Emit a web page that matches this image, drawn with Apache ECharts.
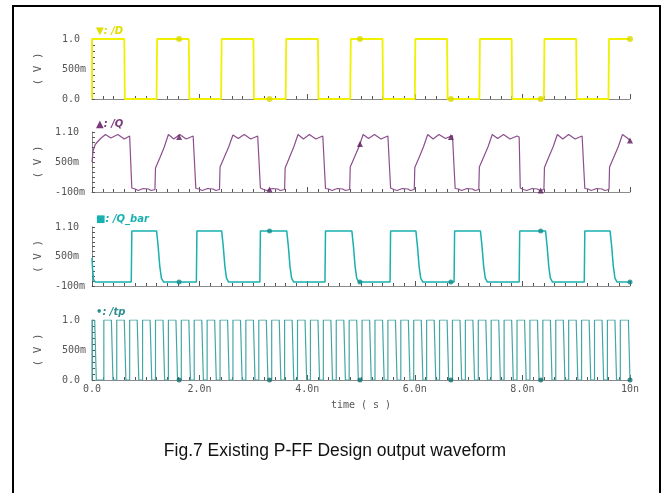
<!DOCTYPE html>
<html><head><meta charset="utf-8">
<script src="https://cdn.jsdelivr.net/npm/echarts@6/dist/echarts.min.js"></script>
<style>html,body{margin:0;padding:0;background:#fff}#c{width:670px;height:493px}</style>
</head><body><div id="c"></div>
<script>
// ---- data ----
const timeTickLabels = ['0.0','2.0n','4.0n','6.0n','8.0n','10n'];
const yLabelsA = {'0':'0.0','0.5':'500m','1':'1.0'};
const yLabelsB = {'-0.1':'-100m','0.5':'500m','1.1':'1.10'};
const yTickValsA = [0,0.1,0.2,0.3,0.4,0.5,0.6,0.7,0.8,0.9,1.0];
const yTickValsB = [-0.1,0,0.1,0.2,0.3,0.4,0.5,0.6,0.7,0.8,0.9,1.0,1.1];

const dWave = [[0,0],[0,1],[0.60,1],[0.61,0],[1.20,0],[1.21,1],[1.80,1],[1.81,0],[2.40,0],[2.41,1],[3.00,1],[3.01,0],[3.60,0],[3.61,1],[4.20,1],[4.21,0],[4.80,0],[4.81,1],[5.40,1],[5.41,0],[6.00,0],[6.01,1],[6.60,1],[6.61,0],[7.20,0],[7.21,1],[7.80,1],[7.81,0],[8.40,0],[8.41,1],[9.00,1],[9.01,0],[9.60,0],[9.61,1],[10,1]];

const qWave = [
 [0,0.50],[0.02,0.72],[0.06,0.85],[0.10,0.90],[0.15,0.96],[0.25,1.05],[0.35,0.98],[0.48,1.05],[0.60,0.96],[0.70,1.02],[0.72,1.00],
 [0.74,-0.02],[0.80,-0.04],[0.86,-0.07],[0.95,-0.03],[1.05,-0.04],[1.10,-0.07],[1.17,-0.05],
 [1.18,0.38],[1.26,0.58],[1.34,0.79],[1.42,1.05],[1.52,0.96],[1.63,1.05],[1.75,0.96],[1.88,1.02],[1.91,1.00],
 [1.93,-0.03],[1.99,-0.04],[2.05,-0.07],[2.15,-0.03],[2.25,-0.04],[2.30,-0.07],[2.37,-0.05],
 [2.38,0.40],[2.46,0.60],[2.54,0.80],[2.62,1.04],[2.72,0.97],[2.83,1.05],[2.95,0.96],[3.08,1.02],[3.11,1.00],
 [3.13,-0.02],[3.19,-0.05],[3.25,-0.07],[3.35,-0.03],[3.45,-0.04],[3.50,-0.07],[3.58,-0.05],
 [3.59,0.38],[3.67,0.59],[3.75,0.80],[3.83,1.05],[3.93,0.96],[4.04,1.05],[4.16,0.96],[4.29,1.02],[4.32,1.00],
 [4.34,-0.03],[4.40,-0.04],[4.46,-0.07],[4.56,-0.03],[4.66,-0.04],[4.71,-0.07],[4.79,-0.05],
 [4.80,0.40],[4.88,0.60],[4.96,0.80],[5.04,1.05],[5.14,0.97],[5.25,1.05],[5.37,0.96],[5.50,1.02],[5.53,1.00],
 [5.55,-0.02],[5.61,-0.05],[5.67,-0.07],[5.77,-0.03],[5.87,-0.04],[5.92,-0.07],[5.99,-0.05],
 [6.00,0.39],[6.08,0.59],[6.16,0.80],[6.24,1.05],[6.34,0.96],[6.45,1.05],[6.57,0.97],[6.70,1.03],[6.73,1.00],
 [6.75,-0.03],[6.81,-0.04],[6.87,-0.07],[6.97,-0.03],[7.07,-0.04],[7.12,-0.07],[7.19,-0.05],
 [7.20,0.40],[7.28,0.60],[7.36,0.80],[7.44,1.05],[7.54,0.97],[7.65,1.05],[7.77,0.96],[7.90,1.02],[7.94,1.00],
 [7.96,-0.02],[8.02,-0.05],[8.08,-0.07],[8.18,-0.03],[8.28,-0.04],[8.33,-0.07],[8.40,-0.05],
 [8.41,0.39],[8.49,0.60],[8.57,0.80],[8.65,1.05],[8.75,0.96],[8.86,1.05],[8.98,0.96],[9.11,1.02],[9.14,1.00],
 [9.16,-0.03],[9.22,-0.04],[9.28,-0.07],[9.38,-0.03],[9.48,-0.04],[9.53,-0.07],[9.61,-0.05],
 [9.62,0.40],[9.70,0.60],[9.78,0.80],[9.86,1.05],[9.95,0.98],[10,0.93]
];

const qbarWave = [
 [0,0.47],[0.01,0.25],[0.03,0.03],[0.06,-0.02],
 [0.73,-0.02],[0.74,1.02],[1.20,1.02],[1.23,0.70],[1.26,0.30],[1.29,0.06],[1.33,-0.02],
 [1.94,-0.02],[1.95,1.02],[2.41,1.02],[2.44,0.70],[2.47,0.30],[2.50,0.06],[2.54,-0.02],
 [3.12,-0.02],[3.13,1.02],[3.62,1.02],[3.65,0.70],[3.68,0.30],[3.71,0.06],[3.75,-0.02],
 [4.33,-0.02],[4.34,1.02],[4.83,1.02],[4.86,0.70],[4.89,0.30],[4.92,0.06],[4.96,-0.02],
 [5.54,-0.02],[5.55,1.02],[6.02,1.02],[6.05,0.70],[6.08,0.30],[6.11,0.06],[6.15,-0.02],
 [6.73,-0.02],[6.74,1.02],[7.22,1.02],[7.25,0.70],[7.28,0.30],[7.31,0.06],[7.35,-0.02],
 [7.94,-0.02],[7.95,1.02],[8.43,1.02],[8.46,0.70],[8.49,0.30],[8.52,0.06],[8.56,-0.02],
 [9.15,-0.02],[9.16,1.02],[9.63,1.02],[9.66,0.70],[9.69,0.30],[9.72,0.06],[9.76,-0.02],[10,-0.02]
];

const tpRise = [0.00,0.22,0.46,0.70,0.94,1.18,1.42,1.66,1.90,2.14,2.38,2.62,2.86,3.10,3.34,3.58,3.82,4.06,4.30,4.54,4.78,5.02,5.26,5.50,5.74,5.98,6.22,6.46,6.70,6.94,7.18,7.42,7.66,7.90,8.14,8.38,8.62,8.86,9.10,9.34,9.58,9.82];
const tpFall = [0.08,0.39,0.63,0.87,1.11,1.35,1.59,1.83,2.07,2.31,2.55,2.79,3.03,3.27,3.51,3.75,3.99,4.23,4.47,4.71,4.95,5.19,5.43,5.67,5.91,6.15,6.39,6.63,6.87,7.11,7.35,7.59,7.83,8.07,8.31,8.55,8.79,9.03,9.27,9.51,9.75,10.0];
const tpHigh = 1.0, tpLow = 0.0;

const markerTimes = [1.62,3.30,4.98,6.67,8.34,10];
const dMarkV  = [1,0,1,0,0,1];
const qMarkV  = [1.00,-0.05,0.86,1.00,-0.07,0.93];
const qbMarkV = [-0.02,1.02,-0.02,-0.02,1.02,-0.02];
const tpMarkV = [0,0,0,0,0,0];

// ---- build ----
const tpWave = [];
tpRise.forEach((r,i)=>{ const f=tpFall[i]; tpWave.push([r,tpLow],[r,tpHigh],[f-0.03,tpHigh],[f,tpLow]); });
const pairs = (ts,vs)=>ts.map((t,i)=>[t,vs[i]]);

const grids = [
  {left:92,right:40,top:39,height:60},
  {left:92,right:40,top:132,height:60},
  {left:92,right:40,top:227,height:59},
  {left:92,right:40,top:320,height:60}
];
const axisGray = '#8a8a8a';
const monoFont = 'DejaVu Sans Mono';

const xAxes = grids.map((g,i)=>({
  gridIndex:i, type:'value', min:0, max:10, interval:2,
  axisLine:{onZero:false,lineStyle:{color:axisGray,width:1}},
  axisTick:{show:true,inside:true,length:5,lineStyle:{color:'#555'}},
  minorTick:{show:true,splitNumber:10,length:3,lineStyle:{color:'#555'}},
  splitLine:{show:false}, minorSplitLine:{show:false},
  axisLabel:{show:i===3,color:'#555',fontFamily:monoFont,fontSize:10,margin:4,
    formatter:v=>timeTickLabels[Math.round(v/2)]},
  name: i===3 ? 'time ( s )' : '', nameLocation:'middle', nameGap:20,
  nameTextStyle:{color:'#555',fontFamily:monoFont,fontSize:10}
}));
const yAxes = grids.map((g,i)=>{
  const A = (i===0||i===3);
  const labels = A ? yLabelsA : yLabelsB;
  return {
    gridIndex:i, type:'value', min:A?0:-0.1, max:A?1:1.1,
    axisLine:{onZero:false,lineStyle:{color:axisGray,width:1}},
    axisTick:{show:true,inside:true,length:3,lineStyle:{color:'#555'},customValues:A?yTickValsA:yTickValsB},
    splitLine:{show:false},
    axisLabel:{color:'#555',fontFamily:monoFont,fontSize:10,align:'left',margin:A?30:37,
      customValues:A?[0,0.5,1]:[-0.1,0.5,1.1],
      formatter:v=>labels[String(Math.round(v*10)/10)]},
    name:'( V )', nameLocation:'middle', nameGap:48, nameRotate:90,
    nameTextStyle:{color:'#555',fontFamily:monoFont,fontSize:11}
  };
});

const lineSeries = (idx,data,color,w)=>({type:'line',xAxisIndex:idx,yAxisIndex:idx,data,showSymbol:false,
  lineStyle:{color,width:w},itemStyle:{color},animation:false,silent:true});
const markSeries = (idx,data,color,symbol,size)=>({type:'scatter',xAxisIndex:idx,yAxisIndex:idx,data,
  symbol,symbolSize:size,itemStyle:{color},animation:false,silent:true,z:5});

const cD='#f0f000', cQ='#8d4e8d', cQb='#19b0b0', cTp='#45a6a6';
const series = [
  lineSeries(0,dWave,cD,1.8),
  lineSeries(1,qWave,cQ,1.2),
  lineSeries(2,qbarWave,cQb,1.5),
  lineSeries(3,tpWave,cTp,1.2),
  markSeries(0,pairs(markerTimes,dMarkV),'#d8d800','circle',6),
  markSeries(1,pairs(markerTimes,qMarkV),'#5a1a5a','triangle',6),
  markSeries(2,pairs(markerTimes,qbMarkV),'#138c8c','circle',5),
  markSeries(3,pairs(markerTimes,tpMarkV),'#176f6f','circle',5)
];

const legendTexts = [['▼: /D','#e0e000'],['▲: /Q','#7a3a7a'],['■: /Q_bar',cQb],['•: /tp','#2f8f8f']];
const graphic = legendTexts.map((lt,i)=>({type:'text',left:96,top:grids[i].top-13,
  style:{text:lt[0],fill:lt[1],font:'bold italic 10px "DejaVu Sans"'}}));
graphic.push({type:'text',left:'center',top:442,
  style:{text:'Fig.7 Existing P-FF Design output waveform',fill:'#111',font:'17.5px "Liberation Sans"'}});
graphic.push({type:'rect',shape:{x:13,y:6,width:647,height:492},style:{fill:'none',stroke:'#000',lineWidth:2},z:100});

const chart = echarts.init(document.getElementById('c'),null,{renderer:'canvas'});
chart.setOption({backgroundColor:'#fff',animation:false,grid:grids,xAxis:xAxes,yAxis:yAxes,series,graphic});
</script></body></html>
